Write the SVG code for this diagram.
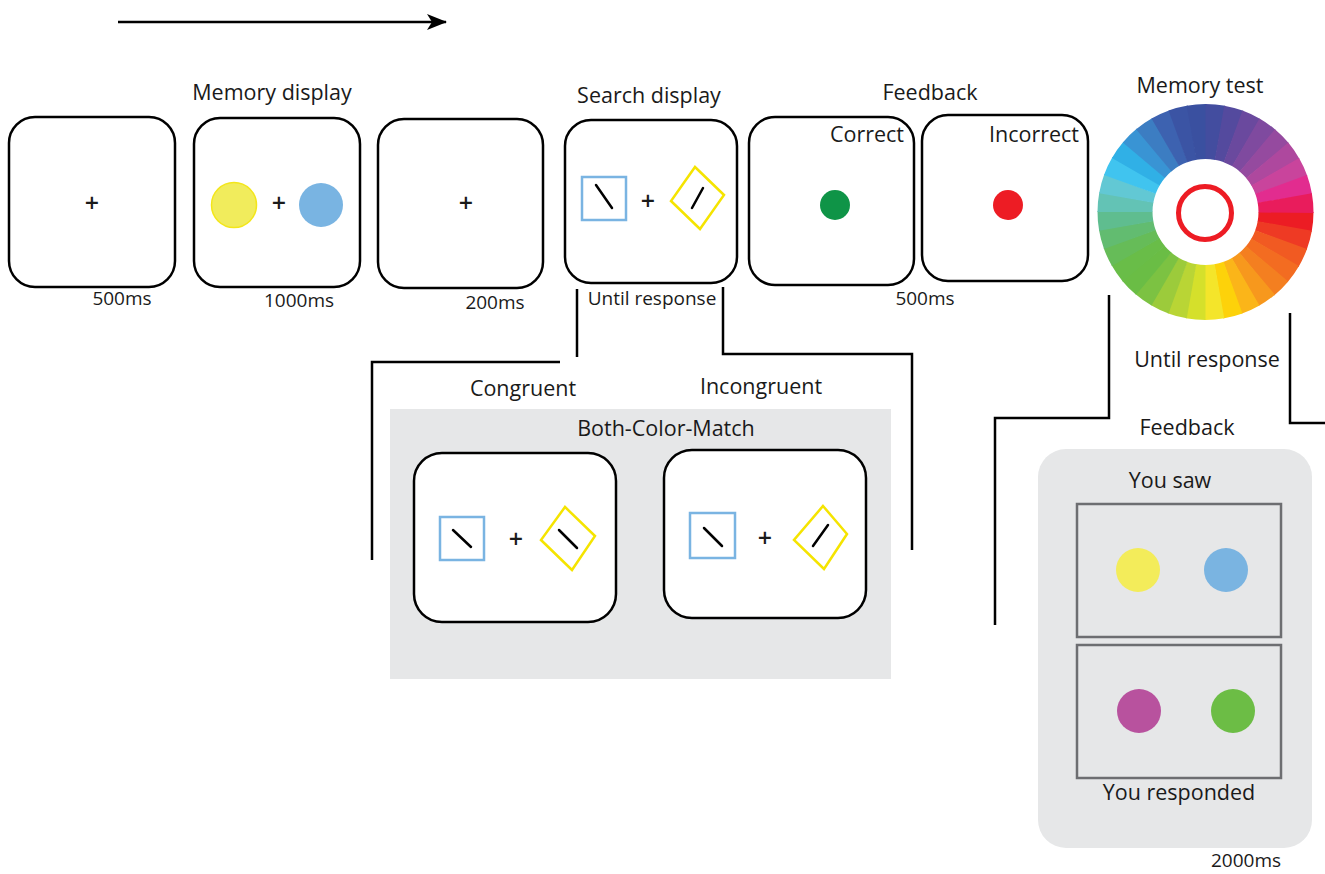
<svg xmlns="http://www.w3.org/2000/svg" width="1325" height="874" viewBox="0 0 1325 874">
<style>
.panel{fill:#fff;stroke:#000;stroke-width:2.5}
.lbl{font-family:"Open Sans","Liberation Sans",sans-serif;font-size:21.5px;fill:#1a1a1a;text-anchor:middle}
.time{font-size:19px}
.plus{font-family:"Open Sans","Liberation Sans",sans-serif;font-size:25px;font-weight:600;fill:#1a1a1a;text-anchor:middle}
.conn{fill:none;stroke:#000;stroke-width:2.5}
.bsq{fill:none;stroke:#7ab4e2;stroke-width:2.5}
.ydia{fill:none;stroke:#f5e400;stroke-width:2.5}
.bar{stroke:#000;stroke-width:2.5;stroke-linecap:round}
.w{fill:none;stroke-width:55;stroke-dasharray:14.8 520}
.gray{fill:#e6e7e8}
.frame{fill:none;stroke:#6d6e71;stroke-width:2.5}
</style>
<defs>
<marker id="ah" markerWidth="20" markerHeight="18" refX="19" refY="9" orient="auto" markerUnits="userSpaceOnUse">
<path d="M0,1 L20,9 L0,17 L5,9 Z" fill="#000"/>
</marker>
</defs>
<rect width="1325" height="874" fill="#fff"/>

<g id="connectors">
<line class="conn" x1="118" y1="22" x2="446" y2="22" marker-end="url(#ah)"/>
<path class="conn" d="M577,289 V357"/>
<path class="conn" d="M560,362 H372 V560"/>
<path class="conn" d="M723,287 V354 H912 V550"/>
<path class="conn" d="M1109,295 V418 H995 V625"/>
<path class="conn" d="M1290,313 V423 H1325"/>
</g>

<g id="fixation1">
<rect class="panel" x="9" y="117" width="166" height="170" rx="26"/>
<text class="plus" x="92" y="212">+</text>
<text class="lbl time" x="122" y="305">500ms</text>
</g>

<g id="memory-display">
<text class="lbl" x="272" y="100">Memory display</text>
<rect class="panel" x="194" y="118" width="166" height="169" rx="26"/>
<circle cx="234" cy="205" r="22.5" fill="#f1ec5c" stroke="#f3e61a" stroke-width="1.5"/>
<text class="plus" x="279" y="212">+</text>
<circle cx="321" cy="205" r="22" fill="#79b4e2"/>
<text class="lbl time" x="299" y="307">1000ms</text>
</g>

<g id="fixation2">
<rect class="panel" x="378" y="119" width="165" height="169" rx="26"/>
<text class="plus" x="466" y="212">+</text>
<text class="lbl time" x="495" y="309">200ms</text>
</g>

<g id="search-display">
<text class="lbl" x="649" y="103">Search display</text>
<rect class="panel" x="565" y="120" width="172" height="163" rx="26"/>
<rect class="bsq" x="582" y="177" width="44" height="43"/>
<line class="bar" x1="596" y1="185" x2="612" y2="208"/>
<text class="plus" x="648" y="210">+</text>
<polygon class="ydia" points="695,167 724,195 700,229 671,201"/>
<line class="bar" x1="703" y1="188" x2="692" y2="208"/>
<text class="lbl time" x="652" y="305">Until response</text>
</g>

<g id="feedback-correct">
<text class="lbl" x="930" y="100">Feedback</text>
<rect class="panel" x="749" y="117" width="165" height="168" rx="26"/>
<text class="lbl" x="867" y="142">Correct</text>
<circle cx="835" cy="205" r="15" fill="#0f9447"/>
</g>

<g id="feedback-incorrect">
<rect class="panel" x="922" y="115" width="166" height="166" rx="26"/>
<text class="lbl" x="1034" y="142">Incorrect</text>
<circle cx="1008" cy="205" r="15" fill="#ed1c24"/>
<text class="lbl time" x="925" y="305">500ms</text>
</g>

<g id="memory-test">
<text class="lbl" x="1200" y="93">Memory test</text>
<g id="wheel">
<circle class="w" cx="1205.5" cy="212" r="80.5" stroke="#ec1c24" transform="rotate(0 1205.5 212)"/>
<circle class="w" cx="1205.5" cy="212" r="80.5" stroke="#ee3a24" transform="rotate(10 1205.5 212)"/>
<circle class="w" cx="1205.5" cy="212" r="80.5" stroke="#f15a22" transform="rotate(20 1205.5 212)"/>
<circle class="w" cx="1205.5" cy="212" r="80.5" stroke="#f36c21" transform="rotate(30 1205.5 212)"/>
<circle class="w" cx="1205.5" cy="212" r="80.5" stroke="#f47f20" transform="rotate(40 1205.5 212)"/>
<circle class="w" cx="1205.5" cy="212" r="80.5" stroke="#f7981d" transform="rotate(50 1205.5 212)"/>
<circle class="w" cx="1205.5" cy="212" r="80.5" stroke="#fbb519" transform="rotate(60 1205.5 212)"/>
<circle class="w" cx="1205.5" cy="212" r="80.5" stroke="#fdd20a" transform="rotate(70 1205.5 212)"/>
<circle class="w" cx="1205.5" cy="212" r="80.5" stroke="#f4e52a" transform="rotate(80 1205.5 212)"/>
<circle class="w" cx="1205.5" cy="212" r="80.5" stroke="#d5e02b" transform="rotate(90 1205.5 212)"/>
<circle class="w" cx="1205.5" cy="212" r="80.5" stroke="#b9d535" transform="rotate(100 1205.5 212)"/>
<circle class="w" cx="1205.5" cy="212" r="80.5" stroke="#9ccb3b" transform="rotate(110 1205.5 212)"/>
<circle class="w" cx="1205.5" cy="212" r="80.5" stroke="#7cc242" transform="rotate(120 1205.5 212)"/>
<circle class="w" cx="1205.5" cy="212" r="80.5" stroke="#6abd45" transform="rotate(130 1205.5 212)"/>
<circle class="w" cx="1205.5" cy="212" r="80.5" stroke="#69bd48" transform="rotate(140 1205.5 212)"/>
<circle class="w" cx="1205.5" cy="212" r="80.5" stroke="#66bc58" transform="rotate(150 1205.5 212)"/>
<circle class="w" cx="1205.5" cy="212" r="80.5" stroke="#62bc70" transform="rotate(160 1205.5 212)"/>
<circle class="w" cx="1205.5" cy="212" r="80.5" stroke="#5fbd8f" transform="rotate(170 1205.5 212)"/>
<circle class="w" cx="1205.5" cy="212" r="80.5" stroke="#63c3b5" transform="rotate(180 1205.5 212)"/>
<circle class="w" cx="1205.5" cy="212" r="80.5" stroke="#62c8d4" transform="rotate(190 1205.5 212)"/>
<circle class="w" cx="1205.5" cy="212" r="80.5" stroke="#40c4ef" transform="rotate(200 1205.5 212)"/>
<circle class="w" cx="1205.5" cy="212" r="80.5" stroke="#30b0e6" transform="rotate(210 1205.5 212)"/>
<circle class="w" cx="1205.5" cy="212" r="80.5" stroke="#3994d4" transform="rotate(220 1205.5 212)"/>
<circle class="w" cx="1205.5" cy="212" r="80.5" stroke="#3c7dc2" transform="rotate(230 1205.5 212)"/>
<circle class="w" cx="1205.5" cy="212" r="80.5" stroke="#3d62b0" transform="rotate(240 1205.5 212)"/>
<circle class="w" cx="1205.5" cy="212" r="80.5" stroke="#3b54a4" transform="rotate(250 1205.5 212)"/>
<circle class="w" cx="1205.5" cy="212" r="80.5" stroke="#3a50a0" transform="rotate(260 1205.5 212)"/>
<circle class="w" cx="1205.5" cy="212" r="80.5" stroke="#434d9f" transform="rotate(270 1205.5 212)"/>
<circle class="w" cx="1205.5" cy="212" r="80.5" stroke="#544a9e" transform="rotate(280 1205.5 212)"/>
<circle class="w" cx="1205.5" cy="212" r="80.5" stroke="#6a499e" transform="rotate(290 1205.5 212)"/>
<circle class="w" cx="1205.5" cy="212" r="80.5" stroke="#7f4a9f" transform="rotate(300 1205.5 212)"/>
<circle class="w" cx="1205.5" cy="212" r="80.5" stroke="#954a9f" transform="rotate(310 1205.5 212)"/>
<circle class="w" cx="1205.5" cy="212" r="80.5" stroke="#ae489e" transform="rotate(320 1205.5 212)"/>
<circle class="w" cx="1205.5" cy="212" r="80.5" stroke="#c9449c" transform="rotate(330 1205.5 212)"/>
<circle class="w" cx="1205.5" cy="212" r="80.5" stroke="#e22c8f" transform="rotate(340 1205.5 212)"/>
<circle class="w" cx="1205.5" cy="212" r="80.5" stroke="#e91c5c" transform="rotate(350 1205.5 212)"/>
</g>
<circle cx="1205" cy="213" r="26.5" fill="none" stroke="#ed1c24" stroke-width="5"/>
<text class="lbl" x="1207" y="367">Until response</text>
</g>

<g id="both-color-match">
<rect class="gray" x="390" y="409" width="501" height="270"/>
<text class="lbl" x="523" y="396">Congruent</text>
<text class="lbl" x="761" y="394">Incongruent</text>
<text class="lbl" x="666" y="436">Both-Color-Match</text>
</g>

<g id="congruent">
<rect class="panel" x="414" y="453" width="202" height="169" rx="28"/>
<rect class="bsq" x="440" y="517" width="44" height="43"/>
<line class="bar" x1="453" y1="530" x2="471" y2="547"/>
<text class="plus" x="516" y="548">+</text>
<polygon class="ydia" points="565,507 595,536 572,570 541,540"/>
<line class="bar" x1="559" y1="530" x2="577" y2="548"/>
</g>

<g id="incongruent">
<rect class="panel" x="664" y="450" width="202" height="168" rx="28"/>
<rect class="bsq" x="690" y="513" width="45" height="45"/>
<line class="bar" x1="704" y1="528" x2="722" y2="546"/>
<text class="plus" x="765" y="547">+</text>
<polygon class="ydia" points="823,506 847,534 824,569 794,540"/>
<line class="bar" x1="828" y1="525" x2="813" y2="546"/>
</g>

<g id="feedback-2000">
<text class="lbl" x="1187" y="435">Feedback</text>
<rect class="gray" x="1038" y="449" width="274" height="399" rx="28"/>
<text class="lbl" x="1170" y="488">You saw</text>
<rect class="frame" x="1077" y="504" width="204" height="133"/>
<circle cx="1138" cy="570" r="22" fill="#f3ec5a"/>
<circle cx="1226" cy="570" r="22" fill="#7ab4e1"/>
<rect class="frame" x="1077" y="645" width="204" height="133"/>
<circle cx="1139" cy="711" r="22" fill="#b8529e"/>
<circle cx="1233" cy="711" r="22" fill="#6cbd45"/>
<text class="lbl" x="1179" y="800">You responded</text>
<text class="lbl time" x="1246" y="867">2000ms</text>
</g>
</svg>
